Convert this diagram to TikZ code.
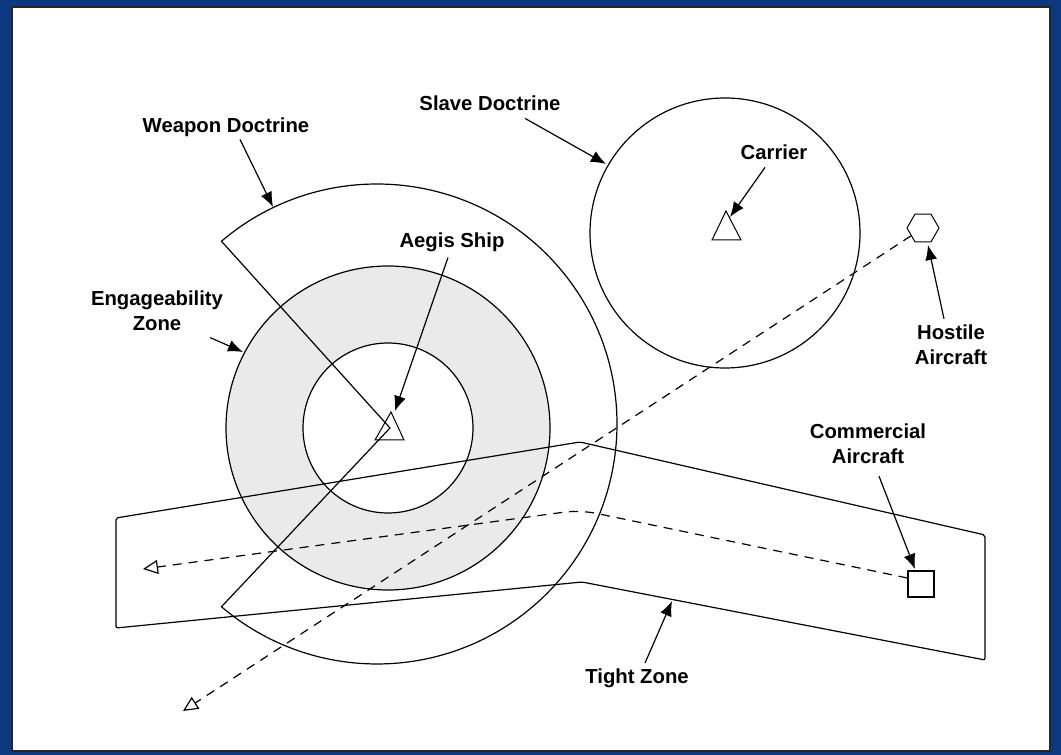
\documentclass[tikz,border=0pt]{standalone}
\usepackage{fontspec}
\setmainfont{Liberation Sans}
\usetikzlibrary{arrows.meta,calc,shapes.geometric}
\definecolor{frameblue}{RGB}{12,56,128}
\definecolor{ringgray}{RGB}{234,234,234}
\begin{document}
\begin{tikzpicture}[x=1pt,y=1pt,
  lbl/.style={font=\bfseries\fontsize{20.3}{25}\selectfont, inner sep=2pt, align=center},
  outline/.style={line width=1.2pt, draw=black},
  ptr/.style={line width=1.2pt, -{Latex[length=15pt,width=12pt]}},
  track/.style={line width=1.2pt, dash pattern=on 9pt off 7pt,
    -{Triangle[open,length=15pt,width=14pt,line width=1.2pt]}}]
\useasboundingbox (0,0) rectangle (1061,755);
% frame
\fill[frameblue] (0,0) rectangle (1061,755);
\fill[white] (12,4) rectangle (1050,748);
\draw[line width=1.5pt, black!85] (12,4) rectangle (1050,748);

% engageability ring
\fill[ringgray, even odd rule] (388,327) circle[radius=162] (388,327) circle[radius=85];
\draw[outline] (388,327) circle[radius=162];
\draw[outline] (388,327) circle[radius=85];

% weapon doctrine sector
\coordinate (V) at (390,327);
\coordinate (C) at (377,331);
\draw[outline] (V) -- ($(C)+(130.4:240)$) arc[start angle=130.4, end angle=-130.4, radius=240] -- cycle;

% slave doctrine circle
\draw[outline] (725,522) circle[radius=135];

% tight zone
\draw[outline, rounded corners=2pt] (116,237) -- (580,313) -- (985,220) -- (985,95) -- (582,173) -- (116,127) -- cycle;

% aegis ship
\draw[outline, line width=1pt] (391,343) -- (404,315) -- (375,315) -- cycle;
% carrier
\draw[outline, line width=1pt] (726,544) -- (741,515) -- (712,515) -- cycle;

% hostile aircraft
\node[outline, line width=1pt, regular polygon, regular polygon sides=6, minimum size=32pt, inner sep=0pt] (hex) at (923,527) {};
% commercial aircraft
\node[outline, minimum size=26pt, inner sep=0pt] (sq) at (921,171) {};

% tracks
\coordinate (hosEnd) at (183,44);
\coordinate (bend) at (580,245);
\coordinate (comEnd) at (143,186);
\draw[track] (hex) -- (hosEnd);
\draw[track, rounded corners=16pt] ([yshift=6pt]sq.west) -- (bend) -- (comEnd);

% targets
\coordinate (wdT) at (273,548);
\coordinate (sdT) at (606,591);
\coordinate (carT) at (730,538);
\coordinate (aegT) at (395,344);
\coordinate (engT) at (243,403);
\coordinate (hosT) at (928,510);
\coordinate (comT) at (915,186);
\coordinate (tzT) at (672,154);

% labels
\node[lbl, anchor=base] (wd) at (226,622) {Weapon Doctrine};
\node[lbl, anchor=base] (sd) at (490,644) {Slave Doctrine};
\node[lbl, anchor=base] (car) at (774,595) {Carrier};
\node[lbl, anchor=base] (aeg) at (452,507) {Aegis Ship};
\node[lbl] (eng) at (157,444.5) {Engageability\\Zone};
\node[lbl] (hos) at (951,410) {Hostile\\Aircraft};
\node[lbl] (com) at (868,311) {Commercial\\Aircraft};
\node[lbl, anchor=base] (tz) at (637,71) {Tight Zone};

% pointers
\draw[ptr] ([xshift=14pt]wd.south) -- (wdT);
\draw[ptr] ([xshift=35pt,yshift=-5pt]sd.south) -- (sdT);
\draw[ptr] ([xshift=-9pt,yshift=-5pt]car.south) -- (carT);
\draw[ptr] ([xshift=-4pt,yshift=-3pt]aeg.south) -- (aegT);
\draw[ptr] ([xshift=-15pt,yshift=-5pt]eng.south east) -- (engT);
\draw[ptr] ([xshift=-7pt,yshift=4pt]hos.north) -- (hosT);
\draw[ptr] ([xshift=11pt,yshift=-10pt]com.south) -- (comT);
\draw[ptr] ([xshift=8pt,yshift=4pt]tz.north) -- (tzT);
\end{tikzpicture}
\end{document}
